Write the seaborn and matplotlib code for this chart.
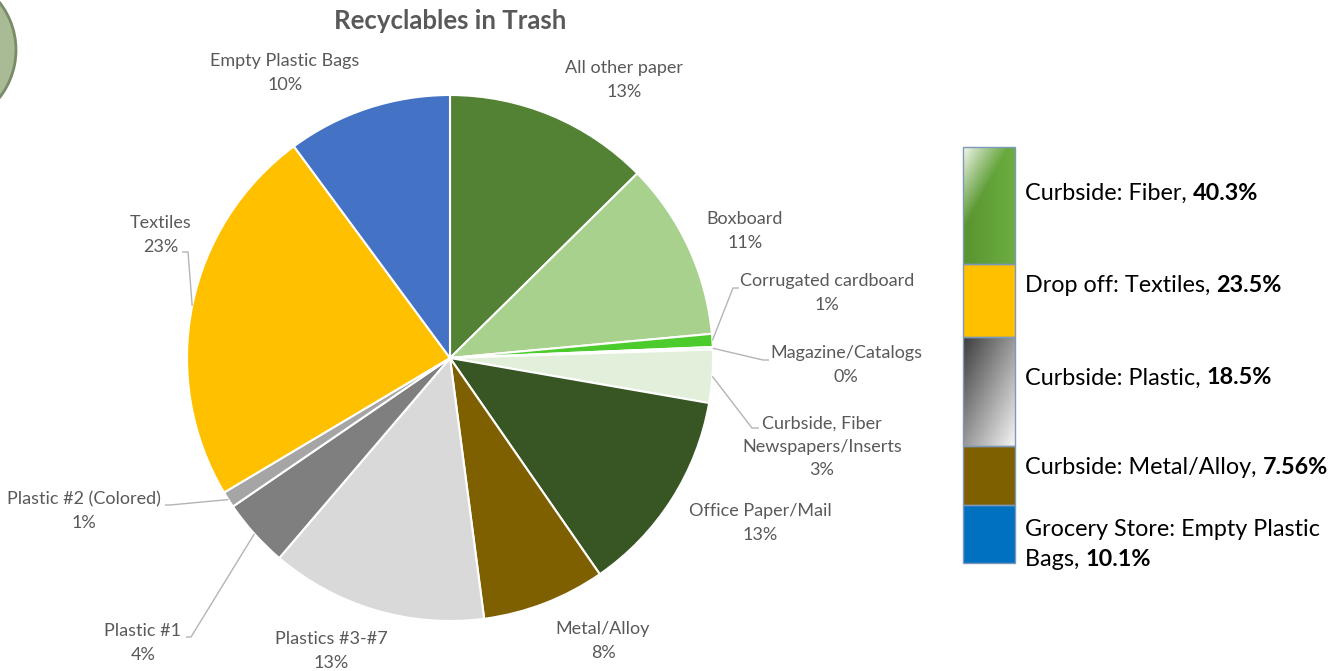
import numpy as np
import matplotlib
matplotlib.use("Agg")
import matplotlib.pyplot as plt
import seaborn as sns
from matplotlib.patches import Rectangle, Ellipse
from matplotlib.colors import to_rgb

# ---- data -------------------------------------------------------------
categories = [
    "All other paper", "Boxboard", "Corrugated cardboard", "Magazine/Catalogs",
    "Curbside, Fiber\nNewspapers/Inserts", "Office Paper/Mail", "Metal/Alloy",
    "Plastics #3-#7", "Plastic #1", "Plastic #2 (Colored)", "Textiles",
    "Empty Plastic Bags",
]
shares = [12.6, 10.9, 0.8, 0.15, 3.25, 12.6, 7.56, 13.3, 4.2, 1.0, 23.4, 10.1]
slice_colors = [
    "#548235", "#a9d18e", "#4ccb2c", "#c5e0b4", "#e2efda", "#375623",
    "#7f6000", "#d9d9d9", "#7f7f7f", "#a5a5a5", "#ffc000", "#4472c4",
]

group_names = ["Curbside: Fiber, ", "Drop off: Textiles, ", "Curbside: Plastic, ",
               "Curbside: Metal/Alloy, ", "Grocery Store: Empty Plastic\nBags, "]
group_shares = ["40.3%", "23.5%", "18.5%", "7.56%", "10.1%"]

# ---- style ------------------------------------------------------------
sns.set_theme(style="white")
plt.rcParams["font.family"] = ["Lato", "DejaVu Sans"]
LABEL_COLOR = "#595959"
LEADER_COLOR = "#b4b4b4"

W, H = 1343, 671
fig = plt.figure(figsize=(W / 100, H / 100), dpi=100)
ax = fig.add_axes([0, 0, 1, 1])

# pie in pixel-like coordinates (y grows downward)
center = (450, 358)
radius = 263
wedges, _ = ax.pie(
    shares, colors=sns.color_palette(slice_colors), startangle=-90,
    counterclock=True, center=center, radius=radius,
    wedgeprops=dict(edgecolor="white", linewidth=1.5),
)
ax.set_xlim(0, W)
ax.set_ylim(H, 0)
ax.set_aspect("auto")
ax.axis("off")

total = sum(shares)

# label anchors and optional leader elbows
label_xy = [(624, 80), (745, 231), (827, 293), (846, 365), (822, 447),
            (760, 523), (603, 641), (331, 651), (143, 643), (84, 511),
            (161, 235), (285, 73)]
leaders = {
    2: [(733, 288), (739, 288)],
    3: [(763, 360), (769, 360)],
    4: [(752, 428), (759, 428)],
    8: [(191, 637), (186, 637)],
    9: [(170, 505), (165, 505)],
    10: [(188, 252), (182, 252)],
}

for i, (w, name, v) in enumerate(zip(wedges, categories, shares)):
    x, y = label_xy[i]
    ax.text(x, y, f"{name}\n{v / total * 100:.0f}%", ha="center", va="center",
            multialignment="center", fontsize=13, color=LABEL_COLOR,
            linespacing=1.55)
    if i in leaders:
        mid = np.deg2rad((w.theta1 + w.theta2) / 2)
        sx = center[0] + radius * np.cos(mid)
        sy = center[1] + radius * np.sin(mid)
        pts = [(sx, sy)] + leaders[i]
        ax.plot([p[0] for p in pts], [p[1] for p in pts], color=LEADER_COLOR,
                lw=1, solid_capstyle="butt")

ax.text(450, 21, "Recyclables in Trash", ha="center", va="center",
        fontsize=18.5, fontweight="bold", color=LABEL_COLOR)

# decorative bubble in the corner
ax.add_patch(Ellipse((-61, 50), 154, 154, facecolor="#a9bb94",
                     edgecolor="#7a8b68", lw=2))

# ---- grouped legend ---------------------------------------------------
bx0, bx1 = 963, 1015
edges = [147, 264, 337, 446, 505, 563]
solid = ["grad_fiber", "#ffc000", "grad_plastic", "#7f6000", "#0070c0"]


def fiber_img(wpx, hpx):
    xx, yy = np.meshgrid(np.arange(wpx), np.arange(hpx))
    t = np.clip((xx + 0.55 * yy) / 45.0, 0, 1)[..., None]
    u = (xx / (wpx - 1))[..., None]
    light = np.array(to_rgb("#f2f8ec"))
    green = np.array(to_rgb("#589431")) * (1 - u) + np.array(to_rgb("#6cae40")) * u
    return light * (1 - t) + green * t


def plastic_img(wpx, hpx):
    xx, yy = np.meshgrid(np.linspace(0, 1, wpx), np.linspace(0, 1, hpx))
    t = ((xx + yy) / 2)[..., None]
    dark = np.array(to_rgb("#3c3c3c"))
    light = np.array(to_rgb("#f4f4f4"))
    return dark * (1 - t) + light * t


for k, fill in enumerate(solid):
    top, bot = edges[k], edges[k + 1]
    if fill == "grad_fiber":
        ax.imshow(fiber_img(bx1 - bx0, bot - top), extent=(bx0, bx1, bot, top),
                  aspect="auto", interpolation="bilinear", zorder=2)
    elif fill == "grad_plastic":
        ax.imshow(plastic_img(bx1 - bx0, bot - top), extent=(bx0, bx1, bot, top),
                  aspect="auto", interpolation="bilinear", zorder=2)
    else:
        ax.add_patch(Rectangle((bx0, top), bx1 - bx0, bot - top, facecolor=fill,
                               edgecolor="none", zorder=2))
    ax.add_patch(Rectangle((bx0, top), bx1 - bx0, bot - top, facecolor="none",
                           edgecolor="#7d98b8", lw=1, zorder=3))

ax.set_xlim(0, W)
ax.set_ylim(H, 0)

LEG_SIZE = 16.8
text_y = [193, 285, 378, 468, 545]
for name, share, y in zip(group_names, group_shares, text_y):
    lines = name.split("\n")
    if len(lines) == 2:
        ax.text(1025, y - 15, lines[0], ha="left", va="center", fontsize=LEG_SIZE,
                color="black")
        t = ax.text(1025, y + 15, lines[1], ha="left", va="center",
                    fontsize=LEG_SIZE, color="black")
    else:
        t = ax.text(1025, y, lines[0], ha="left", va="center", fontsize=LEG_SIZE,
                    color="black")
    ax.annotate(share, xy=(1, 0.5), xycoords=t, ha="left", va="center",
                fontsize=LEG_SIZE, fontweight="bold", color="black")

fig.savefig("out.png", dpi=100)
